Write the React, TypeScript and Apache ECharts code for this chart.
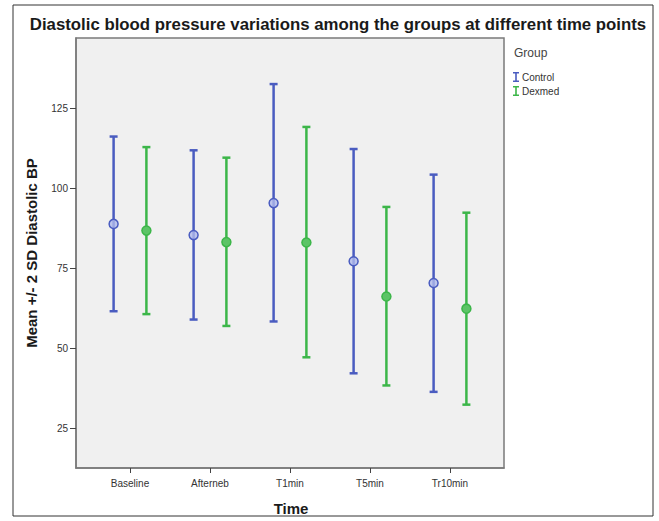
import React, { useEffect, useRef } from "react";
import * as echarts from "echarts";

const categories = ["Baseline", "Afterneb", "T1min", "T5min", "Tr10min"];
const controlMean = [89.0, 85.5, 95.5, 77.3, 70.5];
const controlLow = [61.7, 59.1, 58.5, 42.3, 36.5];
const controlHigh = [116.3, 112.0, 132.7, 112.4, 104.4];
const dexmedMean = [86.9, 83.3, 83.2, 66.3, 62.5];
const dexmedLow = [60.8, 57.1, 47.3, 38.5, 32.5];
const dexmedHigh = [113.0, 109.7, 119.3, 94.3, 92.5];
const yTicks = [25, 50, 75, 100, 125];

const BLUE = "#4a5cc0";
const GREEN = "#3cb649";
const FONT = "'Liberation Sans', Arial, sans-serif";

function makeSeries(name, color, fill, offset, lows, highs, means) {
  const data = categories.map((_, i) => [i, lows[i], highs[i], means[i]]);
  return {
    name,
    type: "custom",
    itemStyle: { color },
    data,
    renderItem: (params, api) => {
      const x = api.value(0) + offset;
      const lo = api.coord([x, api.value(1)]);
      const hi = api.coord([x, api.value(2)]);
      const m = api.coord([x, api.value(3)]);
      const st = { stroke: color, lineWidth: 2.5 };
      return {
        type: "group",
        children: [
          { type: "line", shape: { x1: lo[0], y1: lo[1], x2: hi[0], y2: hi[1] }, style: st },
          { type: "line", shape: { x1: lo[0] - 4, y1: lo[1], x2: lo[0] + 4, y2: lo[1] }, style: st },
          { type: "line", shape: { x1: hi[0] - 4, y1: hi[1], x2: hi[0] + 4, y2: hi[1] }, style: st },
          { type: "circle", shape: { cx: m[0], cy: m[1], r: 4.5 }, style: { fill, stroke: color, lineWidth: 1.5 } },
        ],
      };
    },
  };
}

export default function App() {
  const ref = useRef(null);
  useEffect(() => {
    const chart = echarts.init(ref.current, null, { renderer: "svg" });
    chart.setOption({
      animation: false,
      backgroundColor: "#ffffff",
      grid: {
        left: 76,
        top: 38,
        width: 428,
        height: 430,
        show: true,
        backgroundColor: "#f0f0f0",
        borderColor: "#7a7a7a",
        borderWidth: 1.5,
      },
      xAxis: {
        type: "value",
        min: -0.675,
        max: 4.675,
        splitLine: { show: false },
        axisLine: { show: true, onZero: false, lineStyle: { color: "#7a7a7a", width: 1.5 } },
        axisTick: { show: true, customValues: categories.map((_, i) => i), length: 5, lineStyle: { color: "#444" } },
        axisLabel: {
          customValues: categories.map((_, i) => i),
          formatter: (v) => categories[Math.round(v)] ?? "",
          fontSize: 10,
          color: "#333",
          fontFamily: FONT,
          margin: 10,
        },
      },
      yAxis: {
        type: "value",
        min: 12.7,
        max: 147.1,
        splitLine: { show: false },
        axisLine: { show: true, onZero: false, lineStyle: { color: "#7a7a7a", width: 1.5 } },
        axisTick: { show: true, customValues: yTicks, length: 6, lineStyle: { color: "#444" } },
        axisLabel: {
          customValues: yTicks,
          fontSize: 10,
          color: "#333",
          fontFamily: FONT,
          margin: 8,
        },
      },
      legend: {
        orient: "vertical",
        left: 508,
        top: 67,
        itemWidth: 6,
        itemHeight: 10,
        itemGap: 4,
        icon: "path://M0,0H6V1.6H3.8V8.4H6V10H0V8.4H2.2V1.6H0Z",
        textStyle: { fontSize: 10, color: "#333", fontFamily: FONT, padding: [0, 0, 0, -2] },
        data: ["Control", "Dexmed"],
      },
      graphic: [
        { type: "rect", shape: { x: 13, y: 5, width: 640, height: 511 }, style: { fill: "none", stroke: "#333", lineWidth: 1 }, silent: true },
        {
          type: "text",
          x: 338,
          y: 24,
          style: {
            text: "Diastolic blood pressure variations among the groups at different time points",
            font: `bold 16.8px ${FONT}`,
            fill: "#1a1a1a",
            textAlign: "center",
            textVerticalAlign: "middle",
          },
        },
        {
          type: "text",
          x: 514,
          y: 53,
          style: { text: "Group", font: `12px ${FONT}`, fill: "#444", textAlign: "left", textVerticalAlign: "middle" },
        },
        {
          type: "text",
          x: 291,
          y: 508,
          style: { text: "Time", font: `bold 15px ${FONT}`, fill: "#1a1a1a", textAlign: "center", textVerticalAlign: "middle" },
        },
        {
          type: "text",
          x: 31,
          y: 253,
          rotation: Math.PI / 2,
          style: {
            text: "Mean +/- 2 SD Diastolic BP",
            font: `bold 15px ${FONT}`,
            fill: "#1a1a1a",
            textAlign: "center",
            textVerticalAlign: "middle",
          },
        },
      ],
      series: [
        makeSeries("Control", BLUE, "rgba(175,185,235,0.8)", -0.205, controlLow, controlHigh, controlMean),
        makeSeries("Dexmed", GREEN, "#5cc466", 0.205, dexmedLow, dexmedHigh, dexmedMean),
      ],
    });
    return () => chart.dispose();
  }, []);
  return (
    <div
      ref={ref}
      style={{ position: "absolute", left: 0, top: 0, width: 659, height: 521 }}
    />
  );
}
